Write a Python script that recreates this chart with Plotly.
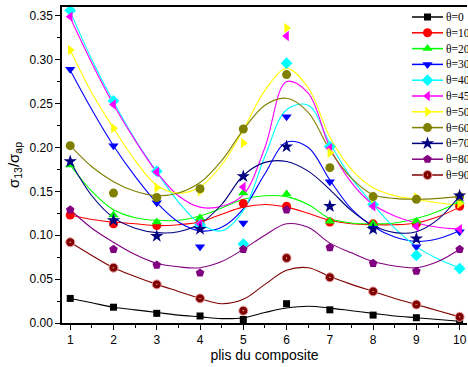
import plotly.graph_objects as go

# ---------------- data ----------------
plis = [1, 2, 3, 4, 5, 6, 7, 8, 9, 10]
plis_fit = [1, 1.5, 2, 2.5, 3, 3.5, 4, 4.5, 5, 5.5, 6, 6.5, 7, 7.5, 8, 8.5, 9, 9.5, 10]

labels = ["θ=0", "θ=10", "θ=20", "θ=30", "θ=40", "θ=45", "θ=50", "θ=60", "θ=70", "θ=80", "θ=90"]

p0 = [0.028, 0.018, 0.011, 0.008, 0.004, 0.022, 0.015, 0.009, 0.006, 0.001]
p10 = [0.123, 0.113, 0.111, 0.114, 0.136, 0.133, 0.115, 0.113, 0.113, 0.133]
p20 = [0.180, 0.123, 0.115, 0.120, 0.148, 0.147, 0.116, 0.113, 0.116, 0.138]
p30 = [0.289, 0.202, 0.137, 0.087, 0.114, 0.235, 0.161, 0.108, 0.087, 0.104]
p40 = [0.356, 0.253, 0.173, 0.112, 0.090, 0.296, 0.201, 0.135, 0.077, 0.062]
p45 = [0.349, 0.249, 0.172, 0.113, 0.155, 0.327, 0.199, 0.133, 0.110, 0.107]
p50 = [0.311, 0.222, 0.154, 0.150, 0.205, 0.336, 0.194, 0.142, 0.143, 0.136]
p60 = [0.202, 0.148, 0.143, 0.153, 0.221, 0.283, 0.177, 0.144, 0.141, 0.144]
p70 = [0.184, 0.117, 0.099, 0.107, 0.167, 0.201, 0.133, 0.107, 0.096, 0.145]
p80 = [0.129, 0.084, 0.066, 0.057, 0.084, 0.129, 0.086, 0.068, 0.059, 0.084]
p90 = [0.092, 0.063, 0.044, 0.028, 0.014, 0.074, 0.052, 0.036, 0.021, 0.007]

fit0 = [0.028, 0.023, 0.018, 0.015, 0.012, 0.009, 0.007, 0.005, 0.006, 0.012, 0.017, 0.019, 0.017, 0.014, 0.011, 0.008, 0.006, 0.004, 0.002]
fit10 = [0.123, 0.118, 0.115, 0.113, 0.111, 0.112, 0.115, 0.124, 0.132, 0.135, 0.132, 0.125, 0.117, 0.113, 0.112, 0.112, 0.114, 0.121, 0.132]
fit20 = [0.180, 0.150, 0.129, 0.120, 0.117, 0.117, 0.122, 0.131, 0.141, 0.145, 0.144, 0.135, 0.119, 0.114, 0.113, 0.114, 0.119, 0.127, 0.138]
fit30 = [0.288, 0.243, 0.202, 0.167, 0.137, 0.115, 0.105, 0.109, 0.130, 0.170, 0.206, 0.200, 0.163, 0.130, 0.110, 0.098, 0.093, 0.096, 0.105]
fit40 = [0.355, 0.300, 0.252, 0.209, 0.172, 0.138, 0.113, 0.105, 0.128, 0.190, 0.243, 0.248, 0.205, 0.165, 0.135, 0.108, 0.087, 0.073, 0.063]
fit45 = [0.348, 0.296, 0.249, 0.208, 0.172, 0.145, 0.132, 0.133, 0.146, 0.200, 0.275, 0.262, 0.200, 0.160, 0.135, 0.122, 0.114, 0.109, 0.107]
fit50 = [0.311, 0.262, 0.222, 0.185, 0.157, 0.148, 0.155, 0.180, 0.220, 0.265, 0.290, 0.268, 0.212, 0.175, 0.154, 0.145, 0.141, 0.137, 0.134]
fit60 = [0.202, 0.178, 0.161, 0.150, 0.145, 0.148, 0.160, 0.185, 0.220, 0.248, 0.256, 0.240, 0.197, 0.165, 0.146, 0.142, 0.141, 0.142, 0.144]
fit70 = [0.184, 0.145, 0.120, 0.108, 0.103, 0.104, 0.113, 0.135, 0.168, 0.183, 0.184, 0.173, 0.152, 0.128, 0.111, 0.103, 0.104, 0.118, 0.145]
fit80 = [0.129, 0.108, 0.092, 0.078, 0.068, 0.064, 0.063, 0.070, 0.084, 0.100, 0.113, 0.109, 0.091, 0.080, 0.070, 0.065, 0.063, 0.070, 0.084]
fit90 = [0.092, 0.077, 0.063, 0.053, 0.044, 0.036, 0.028, 0.022, 0.027, 0.044, 0.060, 0.063, 0.053, 0.044, 0.036, 0.028, 0.021, 0.014, 0.007]

points = [p0, p10, p20, p30, p40, p45, p50, p60, p70, p80, p90]
fits = [fit0, fit10, fit20, fit30, fit40, fit45, fit50, fit60, fit70, fit80, fit90]

# ---------------- styles ----------------
colors = ["#000000", "#FF0000", "#00FF00", "#0000FF", "#00FFFF", "#FF00FF",
          "#FFFF00", "#808000", "#000080", "#800080", "#800000"]
symbols = ["square", "circle", "triangle-up", "triangle-down", "diamond", "triangle-left",
           "triangle-right", "circle", "star", "pentagon", "circle-dot"]
sizes = [7, 9, 9, 9, 9, 9, 9, 9, 10, 9, 9]

fig = go.Figure()

for fy, c in zip(fits, colors):
    fig.add_trace(go.Scatter(x=plis_fit, y=fy, mode="lines",
                             line=dict(color=c, width=1.1, shape="spline", smoothing=1.0),
                             showlegend=False, hoverinfo="skip"))

for py, c, s, sz in zip(points, colors, symbols, sizes):
    mline = dict(width=1, color="#E8A0A0") if s == "circle-dot" else dict(width=0)
    fig.add_trace(go.Scatter(x=plis, y=py, mode="markers",
                             marker=dict(color=c, symbol=s, size=sz, line=mline),
                             showlegend=False))

# ---------------- custom legend (pixel-mapped overlay axis) ----------------
leg_top, leg_step = 17.0, 15.8
for i, (lab, c, s, sz) in enumerate(zip(labels, colors, symbols, sizes)):
    yy = leg_top + leg_step * i
    fig.add_trace(go.Scatter(x=[412, 443], y=[yy, yy], mode="lines",
                             line=dict(color=c, width=1.5), xaxis="x2", yaxis="y2",
                             showlegend=False, hoverinfo="skip"))
    mline = dict(width=1, color="#E8A0A0") if s == "circle-dot" else dict(width=0)
    fig.add_trace(go.Scatter(x=[427.5], y=[yy], mode="markers",
                             marker=dict(color=c, symbol=s, size=sz, line=mline),
                             xaxis="x2", yaxis="y2", showlegend=False, hoverinfo="skip"))
    fig.add_annotation(x=443.5, y=yy, xref="x2", yref="y2", text=lab, showarrow=False,
                       xanchor="left", yanchor="middle",
                       font=dict(family="Liberation Serif", size=11.5, color="#000000"))

L, R, T, B = 62, 1, 7, 44
W, H = 468, 367
pw, ph = W - L - R, H - T - B

fig.update_layout(
    width=W, height=H,
    margin=dict(l=L, r=R, t=T, b=B),
    paper_bgcolor="white", plot_bgcolor="white",
    font=dict(family="Liberation Sans", size=12, color="#000000"),
    showlegend=False,
    xaxis=dict(range=[0.81, 10.17], tickmode="array", tickvals=plis, ticks="outside",
               ticklen=5, tickwidth=1, tickcolor="#000000",
               minor=dict(dtick=0.5, tick0=0.5, ticks="outside", ticklen=3, tickcolor="#000000"),
               showline=True, linecolor="#000000", linewidth=1.5, mirror=True,
               showgrid=False, zeroline=False,
               title=dict(text="plis du composite", font=dict(size=14), standoff=4)),
    yaxis=dict(range=[0, 0.36], dtick=0.05, tick0=0, tickformat=".2f", ticks="outside",
               ticklen=5, tickwidth=1, tickcolor="#000000",
               minor=dict(dtick=0.025, ticks="outside", ticklen=3, tickcolor="#000000"),
               showline=True, linecolor="#000000", linewidth=1.5,
               showgrid=False, zeroline=False,
               title=dict(text="σ<sub>13</sub>/σ<sub>ap</sub>", font=dict(size=15), standoff=6)),
    xaxis2=dict(domain=[(405 - L) / pw, 1.0], range=[405, 467], visible=False,
                anchor="y2", fixedrange=True),
    yaxis2=dict(domain=[(T + ph - 185) / ph, (T + ph - 10) / ph], range=[185, 10],
                visible=False, anchor="x2", fixedrange=True),
)

fig.write_html("out.html")
